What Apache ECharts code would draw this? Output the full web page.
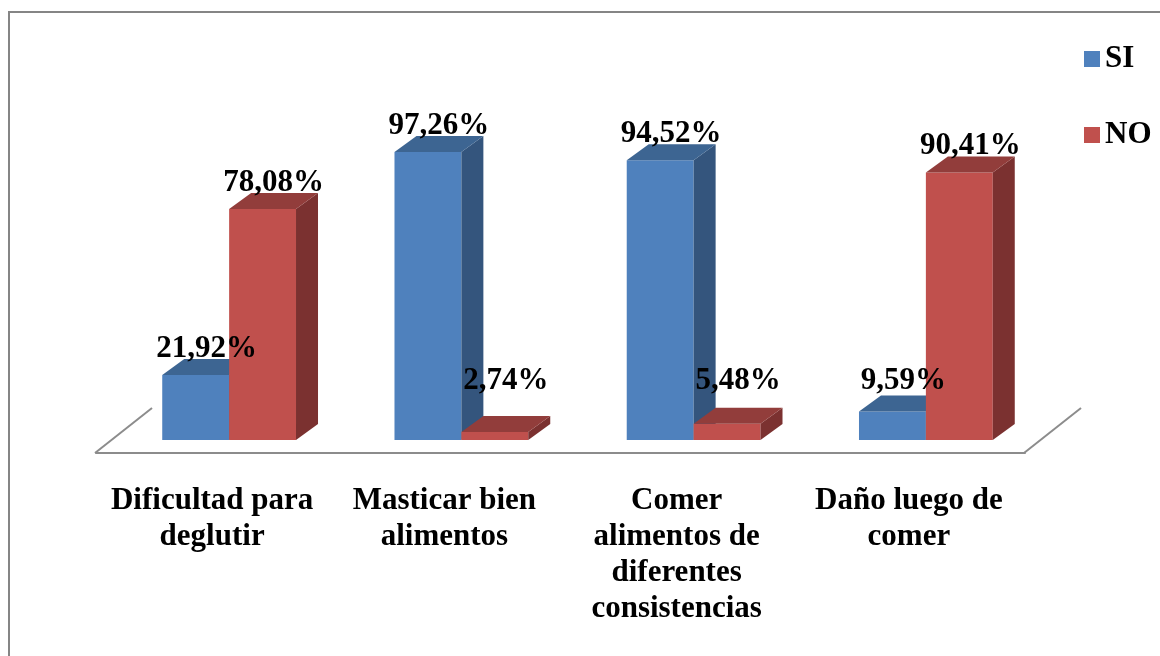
<!DOCTYPE html>
<html>
<head>
<meta charset="utf-8">
<script src="https://cdn.jsdelivr.net/npm/echarts@6/dist/echarts.min.js"></script>
<style>
  html, body { margin: 0; padding: 0; background: #fff; }
  #chart { width: 1160px; height: 656px; }
</style>
</head>
<body>
<div id="chart"></div>
<script>
// datos
const categories = [
  'Dificultad para\ndeglutir',
  'Masticar bien\nalimentos',
  'Comer\nalimentos de\ndiferentes\nconsistencias',
  'Daño luego de\ncomer'
];
const siValues = [21.92, 97.26, 94.52, 9.59];
const noValues = [78.08, 2.74, 5.48, 90.41];

const FONT = "'Liberation Serif', 'Times New Roman', serif";
// profundidad del efecto 3D
const DX = 22, DY = -16;

const palettes = {
  SI: { front: '#4F81BD', side: '#34557D', top: '#3D6592' },
  NO: { front: '#C0504D', side: '#7B3130', top: '#923D3B' }
};

function fmt(v) {
  return v.toFixed(2).replace('.', ',') + '%';
}

function barRender(slot, pal) {
  return function (params, api) {
    const cat = api.value(0);
    const val = api.value(1);
    const base = api.coord([cat, 0]);
    const top = api.coord([cat, val]);
    const band = api.size([1, 0])[0];
    const w = band * 0.288;
    const x0 = base[0] + (slot === 0 ? -w : 0);
    const x1 = x0 + w;
    const yb = base[1], yt = top[1];
    const labelY = Math.min(yt + DY - 10, api.coord([cat, 20])[1]);
    return {
      type: 'group',
      children: [
        { type: 'rect', z2: slot, shape: { x: x0, y: yt, width: w, height: yb - yt }, style: { fill: pal.front } },
        { type: 'polygon', z2: slot, shape: { points: [[x1, yt], [x1 + DX, yt + DY], [x1 + DX, yb + DY], [x1, yb]] }, style: { fill: pal.side } },
        { type: 'polygon', z2: slot, shape: { points: [[x0, yt], [x0 + DX, yt + DY], [x1 + DX, yt + DY], [x1, yt]] }, style: { fill: pal.top } },
        {
          type: 'text',
          z2: 10,
          style: {
            x: (x0 + x1) / 2 + DX / 2, y: labelY,
            text: fmt(val), align: 'center', verticalAlign: 'middle',
            font: 'bold 31px ' + FONT, fill: '#000'
          }
        }
      ]
    };
  };
}

// líneas laterales del piso
function floorRender(params, api) {
  const c = params.coordSys;
  const yb = c.y + c.height;
  const st = { stroke: '#8C8C8C', lineWidth: 2 };
  return {
    type: 'group',
    children: [
      { type: 'line', shape: { x1: c.x - 18, y1: yb + 13, x2: c.x + 39, y2: yb - 32 }, style: st },
      { type: 'line', shape: { x1: c.x + c.width - 18, y1: yb + 13, x2: c.x + c.width + 39, y2: yb - 32 }, style: st }
    ]
  };
}

const chart = echarts.init(document.getElementById('chart'));
chart.setOption({
  animation: false,
  graphic: [{
    type: 'rect',
    shape: { x: 9, y: 12, width: 1200, height: 700 },
    style: { fill: 'none', stroke: '#858585', lineWidth: 2 },
    silent: true
  }],
  legend: {
    orient: 'vertical',
    left: 1079,
    top: 37,
    itemWidth: 16,
    itemHeight: 16,
    itemGap: 42,
    icon: 'rect',
    data: ['SI', 'NO'],
    textStyle: { fontFamily: FONT, fontWeight: 'bold', fontSize: 31, lineHeight: 34, color: '#000' }
  },
  grid: [
    { left: 113, right: 118, top: 144, bottom: 216 },
    { left: 96, right: 135, top: 157, bottom: 203 }
  ],
  xAxis: [
    { type: 'category', gridIndex: 0, data: categories, show: false },
    {
      type: 'category', gridIndex: 1, data: categories,
      axisLine: { lineStyle: { color: '#8C8C8C', width: 2 } },
      axisTick: { show: false },
      axisLabel: {
        interval: 0, margin: 30, color: '#000',
        fontFamily: FONT, fontWeight: 'bold', fontSize: 31, lineHeight: 36
      }
    }
  ],
  yAxis: [
    { type: 'value', gridIndex: 0, min: 0, max: 100, show: false },
    { type: 'value', gridIndex: 1, min: 0, max: 100, show: false }
  ],
  series: [
    {
      name: 'floor', type: 'custom', xAxisIndex: 0, yAxisIndex: 0,
      renderItem: floorRender, data: [[0, 0]], silent: true, z: 1
    },
    {
      name: 'SI', type: 'custom', xAxisIndex: 0, yAxisIndex: 0,
      itemStyle: { color: palettes.SI.front },
      renderItem: barRender(0, palettes.SI),
      data: siValues.map((v, i) => [i, v]), z: 2
    },
    {
      name: 'NO', type: 'custom', xAxisIndex: 0, yAxisIndex: 0,
      itemStyle: { color: palettes.NO.front },
      renderItem: barRender(1, palettes.NO),
      data: noValues.map((v, i) => [i, v]), z: 2
    }
  ]
});
</script>
</body>
</html>
